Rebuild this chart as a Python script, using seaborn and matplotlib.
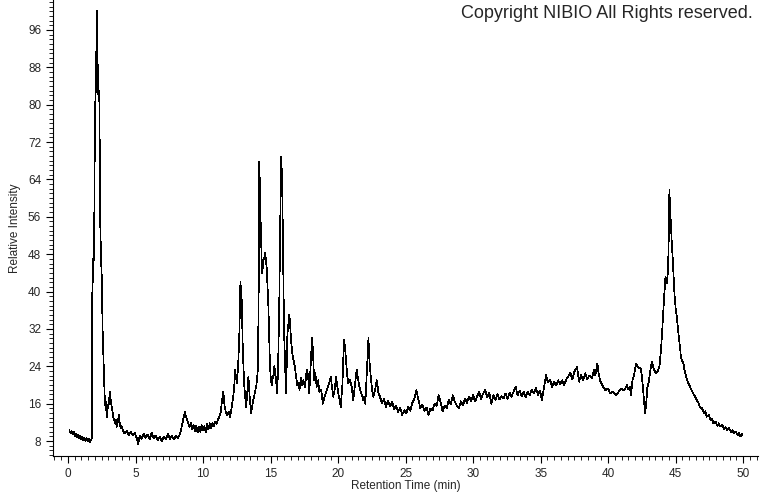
import numpy as np
import pandas as pd
import matplotlib
matplotlib.use("Agg")
import matplotlib.pyplot as plt
from matplotlib.ticker import MultipleLocator
import seaborn as sns

# chromatogram trace in pieces
t_start = [0.10, 0.18, 0.26, 0.34, 0.42, 0.50, 0.58, 0.66, 0.74, 0.82, 0.90, 0.98, 1.06,
           1.14, 1.22, 1.30, 1.38, 1.46, 1.54, 1.62, 1.70]
i_start = [10.3, 9.7, 10.1, 9.4, 10.0, 9.1, 9.6, 8.8, 9.3, 8.6, 9.1, 8.4, 8.9,
           8.2, 8.7, 8.0, 8.6, 7.9, 8.5, 7.8, 8.3]

t_peak1 = [1.76, 1.79, 1.83, 1.87, 1.91, 1.95, 2.00, 2.04, 2.08, 2.12, 2.15, 2.18, 2.21,
           2.25, 2.29, 2.33, 2.38, 2.44, 2.50, 2.57, 2.63, 2.68, 2.74, 2.79, 2.84, 2.89,
           2.94, 2.99, 3.05, 3.11, 3.17, 3.24, 3.30, 3.36, 3.42, 3.48, 3.54, 3.60, 3.66,
           3.72, 3.78, 3.84, 3.90, 3.96]
i_peak1 = [8.5, 36, 47, 42, 48, 56, 80, 81, 88, 96, 100, 95, 84,
           82, 83, 80, 56, 48, 43, 31, 25, 20.8, 15.7, 16.5, 14.5, 13,
           15.8, 15, 17, 18.6, 16.5, 15.3, 14.2, 13.1, 12.6, 11.9, 12.5, 11, 11.6,
           12.8, 13.6, 11.5, 10.8, 11.2]

t_base = [4.05, 4.2, 4.35, 4.5, 4.65, 4.8, 4.95, 5.1, 5.2, 5.3, 5.45, 5.6, 5.75, 5.9,
          6.05, 6.2, 6.35, 6.5, 6.65, 6.8, 6.95, 7.1, 7.25, 7.4, 7.55, 7.7, 7.85, 8.0,
          8.15, 8.3]
i_base = [10.4, 9.6, 10.2, 9.3, 10.0, 9.2, 9.7, 8.6, 7.3, 9.1, 8.5, 9.6, 8.7, 9.4,
          8.4, 9.8, 8.6, 9.2, 8.2, 8.9, 7.9, 9.0, 8.4, 9.6, 8.5, 9.1, 8.3, 9.2,
          8.7, 9.5]

t_rise = [8.45, 8.55, 8.65, 8.72, 8.8, 8.9, 9.0, 9.1, 9.2, 9.3, 9.4, 9.5, 9.6, 9.7,
          9.8, 9.9, 10.0, 10.1, 10.2, 10.3, 10.4, 10.5, 10.6, 10.7, 10.8, 10.9, 11.0,
          11.1, 11.2, 11.3, 11.4, 11.5, 11.6, 11.7, 11.8, 11.9, 12.0, 12.1, 12.2, 12.3]
i_rise = [11.5, 12.8, 14.2, 13.5, 12.6, 11.9, 11.0, 12.0, 10.6, 11.5, 10.2, 11.3, 9.8, 11.0,
          10.0, 11.4, 10.3, 11.2, 9.9, 11.6, 10.5, 11.8, 10.7, 11.9, 11.1, 12.2, 11.6,
          12.5, 13.2, 14.0, 16.5, 18.6, 15.5, 14.0, 13.6, 14.2, 13.1, 14.8, 16.8, 19.0]

t_mid = [12.37, 12.5, 12.6, 12.69, 12.77, 12.82, 12.87, 12.94, 13.04, 13.12, 13.19, 13.28,
         13.36, 13.46, 13.56, 13.67, 13.78, 13.86, 13.93, 14.0, 14.07, 14.12, 14.17, 14.21,
         14.25, 14.31, 14.37, 14.42, 14.47, 14.53, 14.59, 14.65, 14.72, 14.78, 14.84, 14.9,
         14.96, 15.03, 15.09, 15.16, 15.22, 15.28, 15.33, 15.42, 15.5, 15.58, 15.65, 15.72,
         15.78, 15.83, 15.88, 15.94, 16.0, 16.08, 16.15, 16.2, 16.25, 16.32, 16.39, 16.45,
         16.52, 16.6, 16.7, 16.8, 16.89, 16.98, 17.06, 17.15, 17.25, 17.34, 17.43, 17.55,
         17.68, 17.78, 17.87, 17.97, 18.07, 18.15, 18.22, 18.32, 18.42, 18.52, 18.62, 18.75,
         18.87, 19.0, 19.16, 19.3, 19.46, 19.55, 19.65, 19.75, 19.85, 20.0, 20.1, 20.2,
         20.32, 20.44, 20.52, 20.59, 20.68, 20.76, 20.88, 21.01, 21.07, 21.13, 21.25, 21.38,
         21.5, 21.63, 21.75, 21.87, 21.95, 22.02, 22.12, 22.25, 22.33, 22.42, 22.52, 22.62,
         22.75, 22.87, 22.98]
i_mid = [23.2, 20.4, 24, 31, 42.1, 40, 38, 28.2, 20.4, 17.5, 15.3, 18.5,
         21.8, 17.2, 14, 16, 17.5, 18.5, 19.6, 21, 23.9, 39.6, 67.8, 62,
         56.8, 50, 44, 45, 46.8, 47, 48.2, 47, 45, 41, 36.8, 30,
         23.9, 21, 20, 22, 21.5, 24, 23.2, 20.5, 18.2, 27, 38.2, 55,
         68.9, 66, 59.6, 45, 31.8, 24, 18.2, 25, 31, 33, 35, 33,
         29.6, 27, 25.3, 24, 21.8, 20, 20.4, 19, 21.5, 20, 21, 19.5,
         23.2, 22, 18.2, 24, 30, 27, 21, 22.5, 19.6, 21, 18.5, 19,
         16, 17.5, 18.9, 20, 21.8, 19.5, 17.5, 19, 21.8, 18.5, 17, 15.3,
         20, 29.6, 28, 25.3, 22, 20.4, 21, 19.6, 18, 16.8, 20, 23.2,
         21, 18.9, 18, 16.8, 17.5, 16, 22, 30, 25, 21.8, 19, 17.5,
         19, 21, 18.5]

t_plateau = [23.1, 23.25, 23.4, 23.55, 23.7, 23.85, 24.0, 24.15, 24.3, 24.45, 24.6, 24.75,
             24.9, 25.05, 25.2, 25.35, 25.5, 25.65, 25.8, 25.95, 26.1, 26.25, 26.4, 26.55,
             26.7, 26.85, 27.0, 27.15, 27.3, 27.45, 27.6, 27.75, 27.9, 28.05, 28.2, 28.35,
             28.5, 28.65, 28.8, 28.95, 29.1, 29.25, 29.4, 29.55, 29.7, 29.85, 30.0, 30.15,
             30.3, 30.45, 30.6, 30.75, 30.9, 31.05, 31.2, 31.35, 31.5, 31.65, 31.8, 31.95,
             32.1, 32.25, 32.4, 32.55, 32.7, 32.85, 33.0, 33.15, 33.3, 33.45, 33.6, 33.75,
             33.9, 34.05, 34.2, 34.35, 34.5, 34.65, 34.8, 34.95, 35.1, 35.25, 35.4, 35.55,
             35.7, 35.85, 36.0, 36.15, 36.3, 36.45, 36.6, 36.75, 36.9]
i_plateau = [17.5, 16.2, 17.0, 15.3, 16.6, 15.4, 16.4, 14.8, 15.6, 14.2, 15.2, 13.6,
             14.6, 13.9, 15.3, 14.5, 16.2, 17.0, 18.9, 16.8, 15.0, 15.8, 14.4, 15.2,
             13.6, 15.0, 14.6, 16.0, 15.5, 17.8, 16.2, 14.3, 15.6, 15.0, 16.8, 15.9,
             17.8, 16.4, 15.6, 15.0, 16.5, 15.6, 17.1, 16.2, 17.5, 16.6, 17.8, 16.5,
             17.6, 18.5, 17.0, 18.2, 18.9, 17.4, 18.3, 16.0, 17.8, 16.8, 18.0, 16.9,
             17.6, 17.1, 18.2, 17.0, 18.4, 17.5, 18.6, 19.6, 17.8, 18.8, 17.6, 18.5,
             17.4, 18.6, 17.8, 19.0, 18.2, 19.4, 17.9, 18.8, 16.8, 19.5, 22.1, 20.5,
             21.2, 19.6, 20.6, 19.9, 21.0, 20.2, 21.0, 20.0, 21.2]

t_end = [37.05, 37.2, 37.35, 37.5, 37.7, 37.85, 38.0, 38.15, 38.3, 38.45, 38.6, 38.8,
         38.95, 39.05, 39.2, 39.3, 39.4, 39.6, 39.8, 40.0, 40.15, 40.35, 40.6, 40.8,
         41.0, 41.2, 41.4, 41.5, 41.6, 41.7, 41.8, 41.9, 42.07, 42.2, 42.4, 42.5,
         42.57, 42.66, 42.74, 42.82, 42.9, 43.0, 43.12, 43.24, 43.4, 43.56, 43.68, 43.8,
         43.9, 43.98, 44.07, 44.15, 44.25, 44.35, 44.42, 44.47, 44.51, 44.54, 44.58, 44.64,
         44.72, 44.79, 44.85, 44.91, 45.0, 45.09, 45.17, 45.26, 45.33, 45.39, 45.48, 45.58,
         45.68, 45.78, 45.92, 46.07, 46.2, 46.3, 46.44, 46.55, 46.68, 46.8, 46.95, 47.1,
         47.2, 47.3, 47.45, 47.6, 47.7, 47.8, 47.95, 48.1, 48.2, 48.3, 48.45, 48.6,
         48.7, 48.8, 48.95, 49.1, 49.2, 49.3, 49.45, 49.6, 49.7, 49.8, 49.9, 49.95]
i_end = [21.8, 22.6, 21.2, 22.8, 23.9, 20.7, 22.2, 21.0, 22.5, 21.2, 22.0, 21.4,
         23.2, 22.0, 24.6, 22.5, 21.0, 19.8, 18.9, 19.2, 18.2, 18.6, 17.8, 18.6,
         19.2, 18.8, 20.0, 19.0, 19.6, 17.8, 21.0, 21.8, 24.6, 23.8, 23.6, 22.0,
         19.6, 16.5, 13.9, 16.0, 19.3, 20.5, 23.0, 25.0, 23.2, 22.5, 23.0, 23.9,
         27.0, 30.3, 35, 38.9, 43.2, 41.8, 44, 48.2, 56, 61.7, 58, 55,
         50, 46.8, 43, 39.6, 36.5, 34.6, 32, 29.6, 28, 26, 25.2, 24.6,
         22.8, 21.8, 20.5, 19.6, 18.8, 18.2, 17.5, 16.8, 16.2, 15.3, 15.0, 14.0,
         14.4, 13.2, 13.6, 12.4, 12.8, 11.8, 12.2, 11.2, 11.8, 11.1, 11.5, 10.6,
         11.0, 10.4, 10.8, 9.9, 10.3, 9.6, 10.0, 9.2, 9.8, 9.0, 9.6, 9.3]

segments = [(t_start, i_start), (t_peak1, i_peak1), (t_base, i_base), (t_rise, i_rise),
            (t_mid, i_mid), (t_plateau, i_plateau), (t_end, i_end)]
for tt, ii in segments:
    assert len(tt) == len(ii), (len(tt), len(ii), tt[0])

df = pd.DataFrame({
    "time": np.concatenate([s[0] for s in segments]),
    "intensity": np.concatenate([s[1] for s in segments]),
})

sns.set_style("ticks")
plt.rcParams['font.family'] = ['Liberation Sans', 'DejaVu Sans']

fig = plt.figure(figsize=(7.6, 4.92), dpi=100)
ax = fig.add_axes([53 / 760, 36 / 492, 705 / 760, 456 / 492])

sns.lineplot(data=df, x="time", y="intensity", ax=ax, color="black",
             linewidth=0.5, estimator=None, sort=False, antialiased=False)

ax.set_xlim(-1.11, 51.1)
ax.set_ylim(4.8, 102.4)
ax.xaxis.set_major_locator(MultipleLocator(5))
ax.xaxis.set_minor_locator(MultipleLocator(0.5))
ax.yaxis.set_minor_locator(MultipleLocator(1))
ax.set_yticks(np.arange(8, 97, 8))
ax.tick_params(which="major", direction="out", length=5, width=0.8, labelsize=8.5, color="black")
ax.tick_params(which="minor", direction="out", length=3, width=0.6, color="black")
ax.set_xlabel("Retention Time (min)", fontsize=8.5, labelpad=0)
ax.set_ylabel("Relative Intensity", fontsize=8.5, labelpad=5)
sns.despine(ax=ax)
for sp in ["left", "bottom"]:
    ax.spines[sp].set_color("black")
    ax.spines[sp].set_linewidth(0.8)

fig.text(0.99, 0.972, "Copyright NIBIO All Rights reserved.", ha="right", va="center",
         fontsize=13)

fig.savefig("out.png", dpi=100, facecolor="white")
